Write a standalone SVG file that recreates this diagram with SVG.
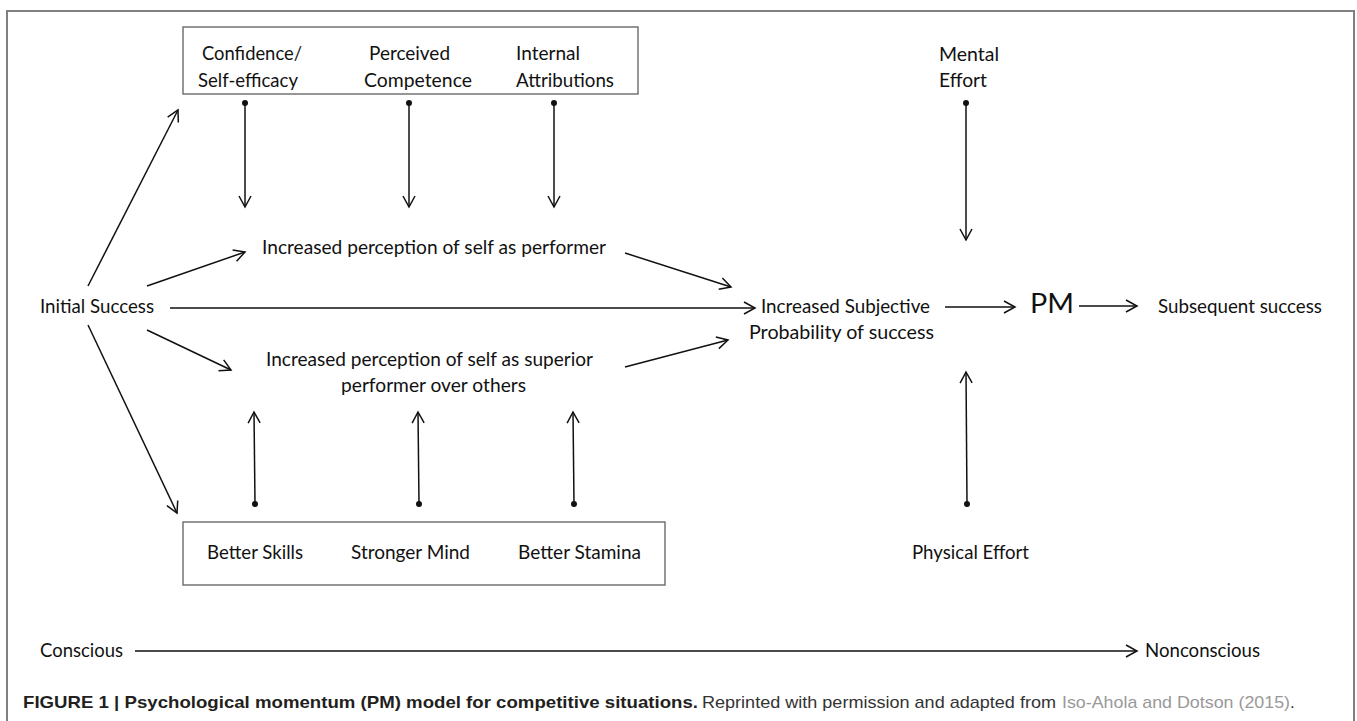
<svg xmlns="http://www.w3.org/2000/svg" width="1357" height="721" viewBox="0 0 1357 721">
<style>
.t{font-family:Lato,"Liberation Sans",sans-serif;font-size:19px;fill:#111}
.pm{font-family:Lato,"Liberation Sans",sans-serif;font-size:26px;fill:#111}
.box{fill:none;stroke:#6a6a6a;stroke-width:1.4}
.c{fill:none;stroke:#111;stroke-width:1.5}
.cap{font-family:"Liberation Sans",Arial,sans-serif;font-size:17px}
</style>
<defs>
<marker id="ah" viewBox="-13 -8 15 16" markerWidth="15" markerHeight="16" refX="0" refY="0" orient="auto" markerUnits="userSpaceOnUse">
<path d="M-11,-6 L0,0 L-11,6" fill="none" stroke="#111" stroke-width="1.5"/>
</marker>
<marker id="dot" viewBox="-4 -4 8 8" markerWidth="8" markerHeight="8" refX="0" refY="0" orient="auto" markerUnits="userSpaceOnUse">
<circle cx="0" cy="0" r="3" fill="#111"/>
</marker>
</defs>
<rect x="0" y="0" width="1357" height="721" fill="#fff"/>
<path d="M7,730 L7,11 L1354,11 L1354,730" fill="none" stroke="#808080" stroke-width="2"/>

<g id="top-box">
<rect class="box" x="183" y="27" width="455" height="67"/>
<text class="t" x="202" y="60" textLength="100" lengthAdjust="spacingAndGlyphs">Confidence/</text>
<text class="t" x="198" y="87" textLength="100" lengthAdjust="spacingAndGlyphs">Self-efficacy</text>
<text class="t" x="369" y="60" textLength="81" lengthAdjust="spacingAndGlyphs">Perceived</text>
<text class="t" x="364" y="87" textLength="108" lengthAdjust="spacingAndGlyphs">Competence</text>
<text class="t" x="516" y="60" textLength="64" lengthAdjust="spacingAndGlyphs">Internal</text>
<text class="t" x="516" y="87" textLength="98" lengthAdjust="spacingAndGlyphs">Attributions</text>
</g>
<g id="mental-effort">
<text class="t" x="939" y="61" textLength="60" lengthAdjust="spacingAndGlyphs">Mental</text>
<text class="t" x="939" y="87" textLength="48" lengthAdjust="spacingAndGlyphs">Effort</text>
</g>
<g id="performer">
<text class="t" x="262" y="254" textLength="344" lengthAdjust="spacingAndGlyphs">Increased perception of self as performer</text>
</g>
<g id="initial-success">
<text class="t" x="40" y="313" textLength="114" lengthAdjust="spacingAndGlyphs">Initial Success</text>
</g>
<g id="superior">
<text class="t" x="266" y="366" textLength="327" lengthAdjust="spacingAndGlyphs">Increased perception of self as superior</text>
<text class="t" x="341" y="392" textLength="185" lengthAdjust="spacingAndGlyphs">performer over others</text>
</g>
<g id="subjective">
<text class="t" x="761" y="313" textLength="169" lengthAdjust="spacingAndGlyphs">Increased Subjective</text>
<text class="t" x="749" y="339" textLength="185" lengthAdjust="spacingAndGlyphs">Probability of success</text>
</g>
<g id="pm">
<text class="pm" x="1030" y="313" textLength="44" lengthAdjust="spacingAndGlyphs">PM</text>
</g>
<g id="subsequent">
<text class="t" x="1158" y="313" textLength="164" lengthAdjust="spacingAndGlyphs">Subsequent success</text>
</g>
<g id="bottom-box">
<rect class="box" x="183" y="522" width="482" height="63"/>
<text class="t" x="207" y="559" textLength="96" lengthAdjust="spacingAndGlyphs">Better Skills</text>
<text class="t" x="351" y="559" textLength="119" lengthAdjust="spacingAndGlyphs">Stronger Mind</text>
<text class="t" x="518" y="559" textLength="123" lengthAdjust="spacingAndGlyphs">Better Stamina</text>
</g>
<g id="physical-effort">
<text class="t" x="912" y="559" textLength="117" lengthAdjust="spacingAndGlyphs">Physical Effort</text>
</g>
<g id="conscious">
<text class="t" x="40" y="657" textLength="83" lengthAdjust="spacingAndGlyphs">Conscious</text>
</g>
<g id="nonconscious">
<text class="t" x="1145" y="657" textLength="115" lengthAdjust="spacingAndGlyphs">Nonconscious</text>
</g>

<g id="connectors">
<line class="c" x1="88" y1="286" x2="178" y2="110" marker-end="url(#ah)"/>
<line class="c" x1="147" y1="286" x2="245" y2="252" marker-end="url(#ah)"/>
<line class="c" x1="170" y1="308" x2="755" y2="308" marker-end="url(#ah)"/>
<line class="c" x1="147" y1="330" x2="231" y2="370" marker-end="url(#ah)"/>
<line class="c" x1="88" y1="325" x2="177" y2="513" marker-end="url(#ah)"/>
<line class="c" x1="625" y1="253" x2="731" y2="287" marker-end="url(#ah)"/>
<line class="c" x1="625" y1="367" x2="728" y2="340" marker-end="url(#ah)"/>
<line class="c" x1="245" y1="103" x2="245" y2="207" marker-start="url(#dot)" marker-end="url(#ah)"/>
<line class="c" x1="409" y1="103" x2="409" y2="207" marker-start="url(#dot)" marker-end="url(#ah)"/>
<line class="c" x1="554" y1="103" x2="554" y2="207" marker-start="url(#dot)" marker-end="url(#ah)"/>
<line class="c" x1="255" y1="504" x2="254" y2="412" marker-start="url(#dot)" marker-end="url(#ah)"/>
<line class="c" x1="419" y1="504" x2="418" y2="412" marker-start="url(#dot)" marker-end="url(#ah)"/>
<line class="c" x1="574" y1="504" x2="573" y2="412" marker-start="url(#dot)" marker-end="url(#ah)"/>
<line class="c" x1="966" y1="103" x2="966" y2="240" marker-start="url(#dot)" marker-end="url(#ah)"/>
<line class="c" x1="967" y1="504" x2="966" y2="372" marker-start="url(#dot)" marker-end="url(#ah)"/>
<line class="c" x1="945" y1="307" x2="1015" y2="307" marker-end="url(#ah)"/>
<line class="c" x1="1079" y1="306" x2="1137" y2="306" marker-end="url(#ah)"/>
<line class="c" x1="135" y1="651" x2="1137" y2="651" marker-end="url(#ah)"/>
</g>

<g id="caption">
<text class="cap" x="23" y="708" font-weight="bold" fill="#231f20" textLength="675" lengthAdjust="spacingAndGlyphs">FIGURE 1 | Psychological momentum (PM) model for competitive situations.</text>
<text class="cap" x="702" y="708" fill="#333" textLength="354" lengthAdjust="spacingAndGlyphs">Reprinted with permission and adapted from</text>
<text class="cap" x="1062" y="708" fill="#999" textLength="228" lengthAdjust="spacingAndGlyphs">Iso-Ahola and Dotson (2015)</text>
<text class="cap" x="1290" y="708" fill="#333">.</text>
</g>
</svg>
